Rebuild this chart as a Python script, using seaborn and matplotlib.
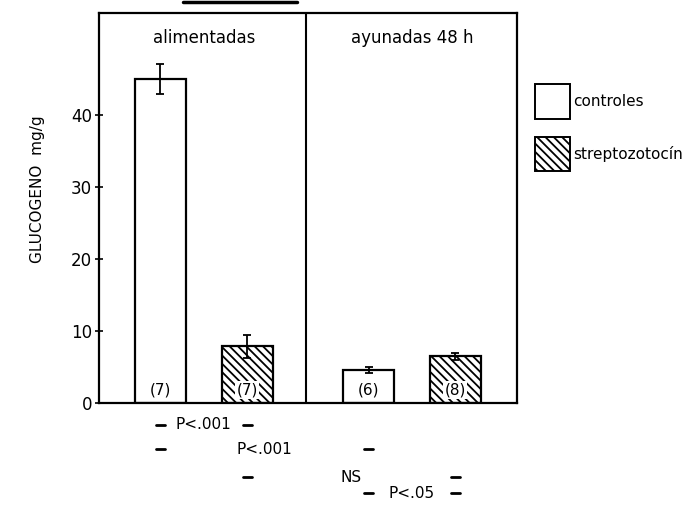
import matplotlib
matplotlib.use("Agg")
import matplotlib.pyplot as plt
from matplotlib.patches import Patch
from matplotlib.lines import Line2D
import seaborn as sns
import pandas as pd

# Liver glycogen by feeding state and treatment
estados = ["alimentadas", "alimentadas", "ayunadas 48 h", "ayunadas 48 h"]
grupos = ["controles", "streptozotocín", "controles", "streptozotocín"]
glucogeno = [45.0, 7.9, 4.6, 6.5]
error = [2.1, 1.6, 0.4, 0.5]
n_animales = ["(7)", "(7)", "(6)", "(8)"]

# Statistical comparisons between bars (indices into the arrays above)
comparaciones = [(0, 1, "P<.001"), (0, 2, "P<.001"), (1, 3, "NS"), (2, 3, "P<.05")]

df = pd.DataFrame({"estado": estados, "grupo": grupos, "glucogeno": glucogeno})

sns.set_theme(style="white")
plt.rcParams["font.family"] = ["DejaVu Sans"]
plt.rcParams["text.color"] = "black"
plt.rcParams["axes.labelcolor"] = "black"
plt.rcParams["ytick.color"] = "black"
plt.rcParams["hatch.linewidth"] = 1.3

fig = plt.figure(figsize=(6.99, 5.12), dpi=100)
ax = fig.add_axes([99 / 699, 1 - 403 / 512, 418 / 699, 390 / 512])

orden_estado = ["alimentadas", "ayunadas 48 h"]
orden_grupo = ["controles", "streptozotocín"]
sns.barplot(data=df, x="estado", y="glucogeno", hue="grupo",
            order=orden_estado, hue_order=orden_grupo,
            palette={"controles": "white", "streptozotocín": "white"},
            width=0.833, gap=0.41, errorbar=None, legend=False,
            edgecolor="black", linewidth=1.6, ax=ax)

# Match each array entry to its drawn bar
barras = {}
for patch in ax.patches:
    cx = patch.get_x() + patch.get_width() / 2
    h = patch.get_height()
    barras[(round(cx, 3), round(h, 3))] = patch
centros = []
for est, grp, val in zip(estados, grupos, glucogeno):
    gi = orden_estado.index(est)
    cand = [p for (cx, h), p in barras.items() if abs(h - val) < 1e-6 and abs(cx - gi) < 0.5]
    p = cand[0]
    if grp == "streptozotocín":
        p.set_hatch("\\\\\\\\")
    centros.append(p.get_x() + p.get_width() / 2)

ax.errorbar(centros, glucogeno, yerr=error, fmt="none", ecolor="black",
            elinewidth=1.3, capsize=3, capthick=1.3, zorder=5)

for cx, lab, grp in zip(centros, n_animales, grupos):
    caja = dict(facecolor="white", edgecolor="none", pad=1) if grp == "streptozotocín" else None
    ax.text(cx, 1.8, lab, ha="center", va="center", fontsize=11, bbox=caja, zorder=6)

ax.set_xlim(-0.503, 1.504)
ax.set_ylim(0, 54.2)
ax.axvline(0.493, color="black", linewidth=1.5)
ax.set_xticks([])
ax.set_xlabel("")
ax.set_yticks([0, 10, 20, 30, 40])
ax.tick_params(axis="y", which="both", direction="inout", length=6, width=1.2,
               labelsize=12, pad=2, left=True, right=False)
for s in ax.spines.values():
    s.set_visible(True)
    s.set_color("black")
    s.set_linewidth(1.6)

ax.set_ylabel("GLUCOGENO  mg/g", fontsize=11)
ax.yaxis.set_label_coords(-0.129, 0.549)

ax.text(0, 0.935, "alimentadas", transform=ax.get_xaxis_transform(),
        ha="center", va="center", fontsize=12)
ax.text(1, 0.935, "ayunadas 48 h", transform=ax.get_xaxis_transform(),
        ha="center", va="center", fontsize=12)

# Comparison rows beneath the axis
trans = ax.get_xaxis_transform()
filas_y = [-0.056, -0.118, -0.190, -0.231]
d = 0.022
for (i, j, txt), fy in zip(comparaciones, filas_y):
    xa, xb = centros[i], centros[j]
    for x0 in (xa, xb):
        ax.add_line(Line2D([x0 - d, x0 + d], [fy, fy], transform=trans,
                           color="black", linewidth=2, clip_on=False))
    ax.text((xa + xb) / 2, fy, txt, transform=trans, ha="center", va="center",
            fontsize=11, clip_on=False)

# Legend
handles = [Patch(facecolor="white", edgecolor="black", linewidth=1.4, label="controles"),
           Patch(facecolor="white", edgecolor="black", linewidth=1.4,
                 hatch="\\\\\\\\", label="streptozotocín")]
fig.legend(handles=handles, loc="upper left", bbox_to_anchor=(529 / 699, 1 - 78 / 512),
           frameon=False, fontsize=11, handlelength=2.3, handleheight=3.1,
           handletextpad=0.2, labelspacing=1.2, borderaxespad=0)

# Short rule along the top edge
fig.add_artist(Line2D([183 / 699, 297 / 699], [1 - 1.5 / 512, 1 - 1.5 / 512],
                      color="black", linewidth=2.5))

fig.savefig("out.png", dpi=100)
